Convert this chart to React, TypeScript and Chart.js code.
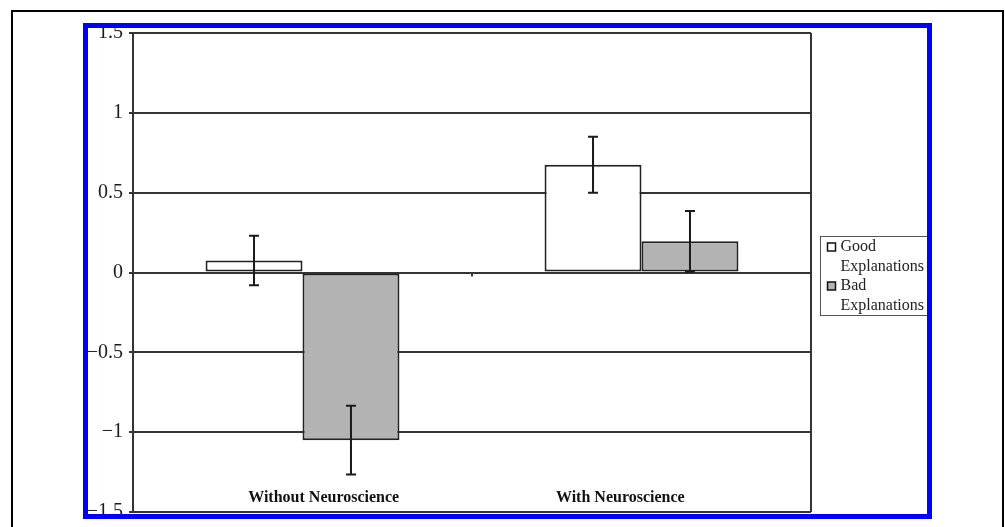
import React, { useEffect, useRef } from 'react';
import { Chart, registerables } from 'chart.js';

Chart.register(...registerables);

const categories = ['Without Neuroscience', 'With Neuroscience'];
const seriesNames = ['Good Explanations', 'Bad Explanations'];
const goodValues = [0.075, 0.675];
const badValues = [-1.05, 0.195];
const goodErrors = [0.155, 0.175];
const badErrors = [0.215, 0.19];
const yTicks = [-1.5, -1, -0.5, 0, 0.5, 1, 1.5];
const seriesColors = ['#ffffff', '#b3b3b3'];

const errorsBySeries = [goodErrors, badErrors];

const serif = "'Liberation Serif', 'Times New Roman', serif";
const lineColor = '#343434';

const decorPlugin = {
  id: 'decor',
  beforeDatasetsDraw(chart: any) {
    const { ctx, chartArea, scales } = chart;
    ctx.save();
    ctx.strokeStyle = lineColor;
    ctx.lineWidth = 2;
    ctx.beginPath();
    ctx.moveTo(chartArea.right, chartArea.top);
    ctx.lineTo(chartArea.right, chartArea.bottom);
    ctx.stroke();
    const x = scales.x;
    const y0 = scales.y.getPixelForValue(0);
    const mid = (x.getPixelForValue(0) + x.getPixelForValue(1)) / 2;
    ctx.lineWidth = 2;
    ctx.beginPath();
    ctx.moveTo(mid, y0);
    ctx.lineTo(mid, y0 + 4);
    ctx.stroke();
    ctx.restore();
  },
  afterDatasetsDraw(chart: any) {
    const { ctx, chartArea, scales } = chart;
    const yScale = scales.y;
    ctx.save();
    ctx.strokeStyle = '#1a1a1a';
    ctx.lineWidth = 2;
    chart.data.datasets.forEach((ds: any, di: number) => {
      const meta = chart.getDatasetMeta(di);
      meta.data.forEach((bar: any, i: number) => {
        const v = ds.data[i];
        const e = errorsBySeries[di][i];
        const yt = yScale.getPixelForValue(v + e);
        const yb = yScale.getPixelForValue(v - e);
        const cx = bar.x;
        ctx.beginPath();
        ctx.moveTo(cx, yt);
        ctx.lineTo(cx, yb);
        ctx.moveTo(cx - 5, yt);
        ctx.lineTo(cx + 5, yt);
        ctx.moveTo(cx - 5, yb);
        ctx.lineTo(cx + 5, yb);
        ctx.stroke();
      });
    });
    const xScale = scales.x;
    const midX = (chartArea.left + chartArea.right) / 2;
    ctx.fillStyle = '#111';
    ctx.font = `bold 16px ${serif}`;
    ctx.textAlign = 'center';
    ctx.textBaseline = 'middle';
    chart.data.labels.forEach((lab: string, i: number) => {
      const px = xScale.getPixelForValue(i);
      const cx = px + (midX - px) * 0.125;
      ctx.fillText(lab, cx, chartArea.bottom - 14);
    });
    ctx.restore();
  },
  afterDraw(chart: any) {
    const { ctx, chartArea } = chart;
    ctx.save();
    const left = chartArea.right + 9.5;
    const centerY = (chartArea.top + chartArea.bottom) / 2 + 3;
    const boxH = 79;
    const top = Math.round(centerY - boxH / 2) + 0.5;
    ctx.fillStyle = '#ffffff';
    ctx.fillRect(left, top, 108, boxH);
    ctx.strokeStyle = '#555';
    ctx.lineWidth = 1;
    ctx.strokeRect(left, top, 108, boxH);
    ctx.font = `16px ${serif}`;
    ctx.textAlign = 'left';
    ctx.textBaseline = 'middle';
    let y = top + 10.5;
    chart.data.datasets.forEach((ds: any) => {
      const words = String(ds.label).split(' ');
      ctx.fillStyle = ds.backgroundColor;
      ctx.fillRect(left + 7, y - 4, 8, 8);
      ctx.strokeStyle = '#111';
      ctx.lineWidth = 1.5;
      ctx.strokeRect(left + 7, y - 4, 8, 8);
      ctx.fillStyle = '#222';
      words.forEach((w: string, k: number) => {
        ctx.fillText(w, left + 20, y + k * 19.5);
      });
      y += 39;
    });
    ctx.restore();
  },
};

export default function App() {
  const canvasRef = useRef<HTMLCanvasElement | null>(null);

  useEffect(() => {
    if (!canvasRef.current) return;
    const chart = new Chart(canvasRef.current, {
      type: 'bar',
      data: {
        labels: categories,
        datasets: seriesNames.map((name, i) => ({
          label: name,
          data: i === 0 ? goodValues : badValues,
          backgroundColor: seriesColors[i],
          borderColor: '#222',
          borderWidth: 2,
          borderSkipped: false,
          categoryPercentage: 0.572,
          barPercentage: 1,
        })),
      },
      options: {
        responsive: false,
        animation: false,
        layout: { padding: { left: 88, top: 33, right: 194, bottom: 15 } },
        plugins: {
          legend: { display: false },
          tooltip: { enabled: false },
          title: { display: false },
        },
        scales: {
          x: {
            display: false,
          },
          y: {
            min: -1.5,
            max: 1.5,
            afterBuildTicks: (scale: any) => {
              scale.ticks = yTicks.map((v) => ({ value: v }));
            },
            afterFit: (scale: any) => {
              scale.width = 45;
              scale.paddingTop = 0;
              scale.paddingBottom = 0;
            },
            grid: {
              color: lineColor,
              lineWidth: 2,
              tickLength: 4,
              drawTicks: true,
            },
            border: { display: true, color: lineColor, width: 2 },
            ticks: {
              color: '#1a1a1a',
              padding: 6,
              font: { family: serif, size: 20 },
              callback: (v: any) => {
                const n = Number(v);
                const s = String(Math.abs(n));
                return n < 0 ? '\u2212' + s : s;
              },
            },
          },
        },
      },
      plugins: [decorPlugin],
    });
    return () => chart.destroy();
  }, []);

  return (
    <div
      style={{
        position: 'fixed',
        left: 0,
        top: 0,
        width: 1005,
        height: 527,
        background: '#fff',
        overflow: 'hidden',
      }}
    >
      <canvas
        ref={canvasRef}
        width={1005}
        height={527}
        style={{ position: 'absolute', left: 0, top: 0, width: 1005, height: 527 }}
      />
      <div
        style={{
          position: 'absolute',
          left: 11,
          top: 10,
          width: 993,
          height: 700,
          border: '2px solid #000',
          boxSizing: 'border-box',
          pointerEvents: 'none',
        }}
      />
      <div
        style={{
          position: 'absolute',
          left: 83,
          top: 23,
          width: 849,
          height: 496,
          border: '5px solid #0000ff',
          boxSizing: 'border-box',
          pointerEvents: 'none',
        }}
      />
    </div>
  );
}
